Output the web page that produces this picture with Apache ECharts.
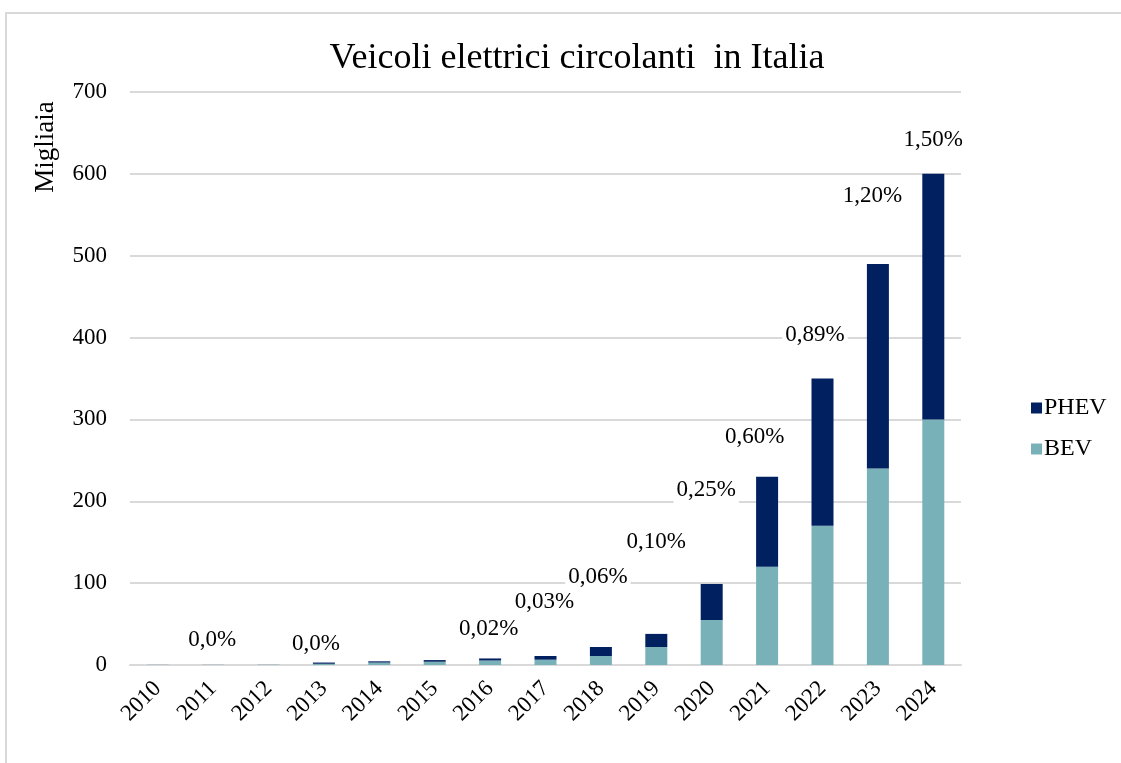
<!DOCTYPE html>
<html>
<head>
<meta charset="utf-8">
<script src="https://cdn.jsdelivr.net/npm/echarts@6/dist/echarts.min.js"></script>
<style>
  html, body { margin: 0; padding: 0; background: #fff; }
  #chart { width: 1121px; height: 763px; }
</style>
</head>
<body>
<div id="chart"></div>
<script>
// Circulating electric vehicles in Italy (thousands), by year
const years = ['2010','2011','2012','2013','2014','2015','2016','2017','2018','2019','2020','2021','2022','2023','2024'];
const bev  = [0.1, 0.1, 0.2, 1.5, 3,   4, 5.5, 6.5, 11, 22, 55, 120, 170, 240, 300];
const phev = [0.1, 0.1, 0.1, 1.5, 1.5, 2, 2.5, 4.5, 11, 16, 44, 110, 180, 250, 300];
// Share of the circulating fleet (label text), null = no label
const shares = [null, '0,0%', null, '0,0%', null, null, '0,02%', '0,03%', '0,06%', '0,10%', '0,25%', '0,60%', '0,89%', '1,20%', '1,50%'];
const yTicks = [0, 100, 200, 300, 400, 500, 600, 700];

// Where each share label sits relative to the top of its stack (px)
const labelOffsets = [[0,0],[-1,-25],[0,0],[-8,-19],[0,0],[0,0],[-1.5,-29],[-1,-54],[-3,-70],[0,-92],[-5.5,-94],[-12.5,-40],[-7.5,-44],[-5.5,-68],[0,-34]];

const serif = "'Liberation Serif', 'Times New Roman', serif";
const chart = echarts.init(document.getElementById('chart'), null, { renderer: 'canvas' });

const phevData = phev.map((v, i) => {
  const s = shares[i];
  return {
    value: v,
    label: s === null ? { show: false } : {
      show: true,
      formatter: s,
      position: ['50%', 0],
      align: 'center',
      verticalAlign: 'middle',
      offset: labelOffsets[i]
    }
  };
});

chart.setOption({
  animation: false,
  backgroundColor: '#fff',
  title: {
    text: 'Veicoli elettrici circolanti  in Italia',
    left: 572,
    top: 36,
    textAlign: 'center',
    textStyle: { fontFamily: serif, fontSize: 36, fontWeight: 'normal', color: '#000' }
  },
  legend: {
    orient: 'vertical',
    left: 1026,
    top: 391,
    itemWidth: 11,
    itemHeight: 11,
    itemGap: 17,
    icon: 'rect',
    data: ['PHEV', 'BEV'],
    textStyle: { fontFamily: serif, fontSize: 24, color: '#000', padding: [0, 0, 0, -3] }
  },
  grid: { left: 130, right: 160, top: 92, bottom: 98, containLabel: false },
  xAxis: {
    type: 'category',
    data: years,
    axisLine: { show: true, lineStyle: { color: '#d9d9d9', width: 2 } },
    axisTick: { show: false },
    axisLabel: { rotate: 45, margin: 20, fontFamily: serif, fontSize: 23, color: '#000' }
  },
  yAxis: {
    type: 'value',
    min: yTicks[0],
    max: yTicks[yTicks.length - 1],
    interval: 100,
    axisLine: { show: false },
    axisTick: { show: false },
    splitLine: { lineStyle: { color: '#d9d9d9', width: 2 } },
    axisLabel: { margin: 23, fontFamily: serif, fontSize: 23, color: '#000' }
  },
  graphic: [
    {
      type: 'rect',
      shape: { x: 6, y: 13, width: 1200, height: 800 },
      style: { fill: 'none', stroke: '#d9d9d9', lineWidth: 2 },
      silent: true
    },
    {
      type: 'text',
      x: 46,
      y: 147,
      rotation: Math.PI / 2,
      style: {
        text: 'Migliaia',
        fontFamily: serif,
        fontSize: 27,
        fill: '#000',
        align: 'center',
        verticalAlign: 'middle'
      }
    }
  ],
  series: [
    {
      name: 'BEV',
      type: 'bar',
      stack: 'ev',
      barWidth: 22,
      itemStyle: { color: '#79b1b9' },
      data: bev
    },
    {
      name: 'PHEV',
      type: 'bar',
      stack: 'ev',
      barWidth: 22,
      itemStyle: { color: '#002060' },
      label: {
        fontFamily: serif,
        fontSize: 23,
        color: '#000',
        backgroundColor: '#fff',
        padding: [2, 3]
      },
      data: phevData
    }
  ]
});
</script>
</body>
</html>
